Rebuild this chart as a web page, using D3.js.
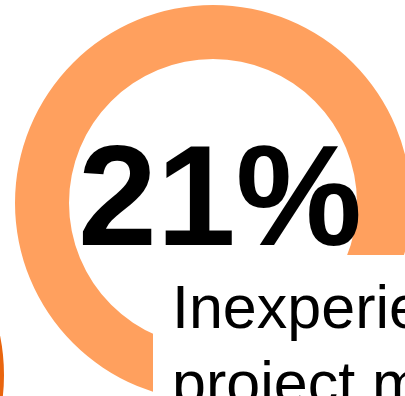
<!DOCTYPE html>
<html>
<head>
<meta charset="utf-8">
<script src="https://cdn.jsdelivr.net/npm/d3@7"></script>
<style>
  html, body { margin: 0; padding: 0; background: #fff; overflow: hidden; }
  text { font-family: "Liberation Sans", Arial, sans-serif; }
</style>
</head>
<body>
<div id="chart"></div>
<script>
/* DATA */
const percentValue = 21;
const percentLabel = "21%";
const labelLines = ["Inexperienced", "project managers"];
const ringShare = [0, 100]; // the full track of the ring, in %

/* CONSTANTS */
const width = 405,
  height = 396,
  center = { x: 213, y: 203 },
  outerR = 198,
  innerR = 144;

const lightOrange = "#FFA05E",
  darkOrange = "#E9650E";

const svg = d3.select("#chart")
  .append("svg")
  .attr("width", width)
  .attr("height", height);

// percent -> angle
const angle = d3.scaleLinear().domain([0, 100]).range([0, 2 * Math.PI]);

const arc = d3.arc().innerRadius(innerR).outerRadius(outerR);

// neighbouring donut, only its right rim shows at the left edge
svg.append("path")
  .attr("transform", `translate(${center.x - 407},${center.y + 172})`)
  .attr("fill", darkOrange)
  .attr("d", arc({ startAngle: angle(ringShare[0]), endAngle: angle(ringShare[1]) }));

// main ring
svg.append("path")
  .attr("transform", `translate(${center.x},${center.y})`)
  .attr("fill", lightOrange)
  .attr("d", arc({ startAngle: angle(ringShare[0]), endAngle: angle(ringShare[1]) }));

// big number
svg.append("text")
  .attr("x", center.x + 7)
  .attr("y", 245)
  .attr("text-anchor", "middle")
  .attr("font-size", 142)
  .attr("font-weight", "bold")
  .attr("fill", "#000")
  .text(percentLabel);

// label box covers the lower right of the ring
svg.append("rect")
  .attr("x", 153)
  .attr("y", 255)
  .attr("width", width)
  .attr("height", height)
  .attr("fill", "#fff");

svg.append("text")
  .attr("x", 172)
  .attr("y", 328)
  .attr("font-size", 61)
  .attr("fill", "#000")
  .selectAll("tspan")
  .data(labelLines)
  .join("tspan")
  .attr("x", 172)
  .attr("dy", (d, i) => i === 0 ? 0 : 76)
  .text(d => d);
</script>
</body>
</html>
